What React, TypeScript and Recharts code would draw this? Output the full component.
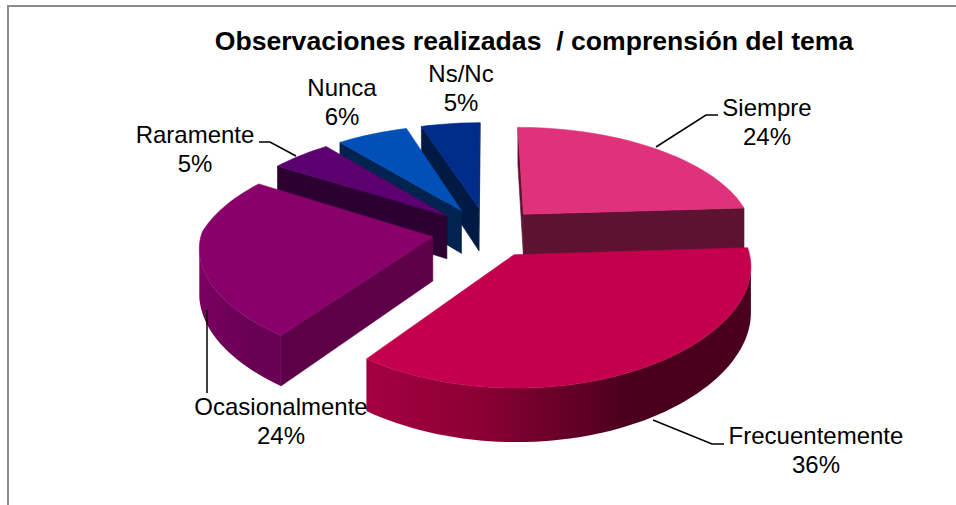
import React from 'react';
import { PieChart, Pie } from 'recharts';

const CATEGORIES = ['Siempre', 'Frecuentemente', 'Ocasionalmente', 'Raramente', 'Nunca', 'Ns/Nc'];
const PERCENTS = [24, 36, 24, 5, 6, 5];

const TOP_COLORS = ['#E0327A', '#C4004E', '#8A006A', '#5C0070', '#0050B8', '#002C8A'];
const FACE_COLORS = ['#5C1230', '#4A001C', '#5E0048', '#2C0030', '#00234F', '#001A44'];
const WALL_START = ['#5C1230', '#A50040', '#7C0062', '#2C0030', '#00234F', '#001A44'];
const WALL_MID = ['#5C1230', '#8A0034', '#700058', '#2C0030', '#00234F', '#001A44'];
const WALL_END = ['#5C1230', '#4A001C', '#680054', '#2C0030', '#00234F', '#001A44'];

// back to front, so the nearer slices cover the farther ones
const DRAW_ORDER = [5, 4, 3, 0, 2, 1];

const TITLE = 'Observaciones realizadas  / comprensión del tema';

// label placement: text centre, first baseline and leader line
const LABEL_SPOTS = [
  { x: 767, y: 116, line: '656,147 706,115 718,115' },
  { x: 816, y: 444, line: '653,420 712,444 724,444' },
  { x: 281, y: 415, line: '207,310 207,393' },
  { x: 195, y: 143, line: '296,156 270,142 259,142' },
  { x: 342, y: 96, line: '' },
  { x: 461, y: 82, line: '' },
];

const tableData = CATEGORIES.map((name, i) => ({ name, value: PERCENTS[i] }));

const CX = 487;
const CY = 232;
const RADIUS = 231;
const EXPLODE = 55;
const DEPTH = 44;
const PERSPECTIVE = 0.000664;
const TILT = 0.4555;
const WIDEN_BACK = 0.0008;
const WIDEN_FRONT = 0.0004;

const FONT = '"Liberation Sans", Arial, sans-serif';

const toPoint = (wx: number, wy: number) => {
  const f = 1 / (1 - PERSPECTIVE * wy);
  const fx = 1 / (1 - (wy < 0 ? WIDEN_BACK : WIDEN_FRONT) * wy);
  return { x: CX + wx * fx, y: CY + TILT * wy * f, f };
};

type Pt = { x: number; y: number; f: number };

const pathOf = (pts: Pt[]) =>
  pts.map((p, i) => `${i ? 'L' : 'M'}${p.x.toFixed(1)},${p.y.toFixed(1)}`).join(' ') + ' Z';

const wallPath = (run: Pt[]) => {
  const lower = [...run].reverse().map(p => ({ ...p, y: p.y + DEPTH * p.f }));
  return pathOf([...run, ...lower]);
};

// one exploded slice: the library's angles and radius go through the tilted projection
const Slice3D = (props: any) => {
  const { startAngle, endAngle, outerRadius, midAngle } = props;
  const idx = CATEGORIES.indexOf(props.name ?? props.payload?.name);
  const rad = (d: number) => (d * Math.PI) / 180;
  const mid = rad(90 - midAngle);
  const ox = EXPLODE * Math.sin(mid);
  const oy = -EXPLODE * Math.cos(mid);
  const apex = toPoint(ox, oy);

  const from = 90 - startAngle;
  const to = 90 - endAngle;
  const steps = Math.max(4, Math.ceil((to - from) / 2));
  const arc: Pt[] = [];
  for (let s = 0; s <= steps; s++) {
    const a = rad(from + ((to - from) * s) / steps);
    arc.push(toPoint(ox + outerRadius * Math.sin(a), oy - outerRadius * Math.cos(a)));
  }

  // a side shows when its top edge runs leftwards on screen
  const arcRuns: Pt[][] = [];
  let run: Pt[] = [];
  for (let s = 0; s < arc.length - 1; s++) {
    if (arc[s + 1].x < arc[s].x) {
      if (!run.length) run.push(arc[s]);
      run.push(arc[s + 1]);
    } else if (run.length) {
      arcRuns.push(run);
      run = [];
    }
  }
  if (run.length) arcRuns.push(run);

  const first = arc[0];
  const last = arc[arc.length - 1];
  const gradId = `wall-${idx}`;
  const face = FACE_COLORS[idx];

  return (
    <g>
      <defs>
        <linearGradient id={gradId} x1="0" y1="0" x2="1" y2="0">
          <stop offset="0%" stopColor={WALL_START[idx]} />
          <stop offset="30%" stopColor={WALL_MID[idx]} />
          <stop offset="68%" stopColor={WALL_END[idx]} />
          <stop offset="100%" stopColor={WALL_END[idx]} />
        </linearGradient>
      </defs>
      {first.x < apex.x && <path d={wallPath([apex, first])} fill={face} stroke={face} strokeWidth={0.6} />}
      {apex.x < last.x && <path d={wallPath([last, apex])} fill={face} stroke={face} strokeWidth={0.6} />}
      {arcRuns.map((r, i) => (
        <path key={i} d={wallPath(r)} fill={`url(#${gradId})`} />
      ))}
      <path d={pathOf([apex, ...arc])} fill={TOP_COLORS[idx]} stroke={TOP_COLORS[idx]} strokeWidth={0.6} />
    </g>
  );
};

const SliceLabel = (props: any) => {
  const idx = props.index;
  const spot = LABEL_SPOTS[idx];
  return (
    <g>
      {spot.line && <polyline points={spot.line} fill="none" stroke="#000" strokeWidth={1.5} />}
      <text x={spot.x} y={spot.y} textAnchor="middle" fontFamily={FONT} fontSize={24} fill="#000">
        {CATEGORIES[idx]}
      </text>
      <text x={spot.x} y={spot.y + 28.5} textAnchor="middle" fontFamily={FONT} fontSize={24} fill="#000">
        {PERCENTS[idx]}%
      </text>
    </g>
  );
};

export default function App() {
  return (
    <div style={{ position: 'absolute', left: 0, top: 0, width: 956, height: 505, overflow: 'hidden', background: '#fff' }}>
      <div style={{ position: 'absolute', left: 7, top: 5, right: 0, bottom: 0, borderLeft: '2px solid #8C8C8C', borderTop: '2px solid #8C8C8C' }} />
      <div style={{ position: 'absolute', left: 0, top: 0 }}>
        <PieChart width={956} height={505} margin={{ top: 0, right: 0, bottom: 0, left: 0 }}>
          <text x={534} y={50} textAnchor="middle" fontFamily={FONT} fontSize={26.6} fontWeight="bold" fill="#000" style={{ whiteSpace: 'pre' }}>
            {TITLE}
          </text>
          {DRAW_ORDER.map(idx => (
            <Pie
              key={idx}
              data={tableData}
              dataKey="value"
              nameKey="name"
              cx={CX}
              cy={CY}
              outerRadius={RADIUS}
              startAngle={90}
              endAngle={-270}
              stroke="none"
              isAnimationActive={false}
              shape={(p: any) =>
                (p.name ?? p.payload?.name) === CATEGORIES[idx] ? <Slice3D {...p} /> : <g />
              }
            />
          ))}
          <Pie
            data={tableData}
            dataKey="value"
            nameKey="name"
            cx={CX}
            cy={CY}
            outerRadius={RADIUS}
            startAngle={90}
            endAngle={-270}
            stroke="none"
            isAnimationActive={false}
            shape={() => <g />}
            label={SliceLabel}
            labelLine={false}
          />
        </PieChart>
      </div>
    </div>
  );
}
